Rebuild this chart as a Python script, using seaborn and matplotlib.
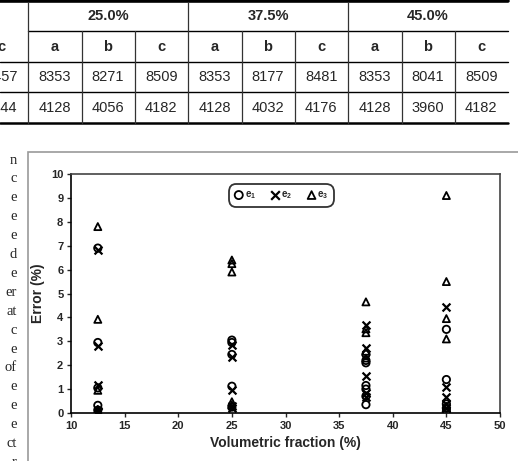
import numpy as np
import pandas as pd
import matplotlib
matplotlib.use("Agg")
import matplotlib.pyplot as plt
import seaborn as sns
from matplotlib.lines import Line2D
from matplotlib.patches import Rectangle

# ---- data ----
fractions = [12.5, 25.0, 37.5, 45.0]

# errors (%) at each volumetric fraction, one list per fraction
e1_err = [[6.9, 2.95, 1.05, 0.32, 0.12],
          [3.05, 2.95, 2.45, 1.12, 0.25],
          [2.45, 2.2, 2.1, 1.15, 1.0, 0.7, 0.35],
          [3.5, 1.4, 0.38, 0.2, 0.05]]
e2_err = [[6.8, 2.8, 1.18, 0.1, 0.05],
          [2.85, 2.35, 0.95, 0.3, 0.2],
          [3.68, 2.72, 1.55, 0.85, 0.65],
          [4.45, 1.1, 0.68, 0.38, 0.2]]
e3_err = [[7.8, 3.92, 0.95, 0.15, 0.05],
          [6.4, 6.25, 5.9, 0.47, 0.33],
          [4.65, 3.52, 3.36, 2.58, 2.3],
          [9.1, 5.5, 3.95, 3.1, 0.28]]

# table above the figure
group_labels = ['25.0%', '37.5%', '45.0%']
sub_labels = ['c', 'a', 'b', 'c', 'a', 'b', 'c', 'a', 'b', 'c']
row_top = ['8457', '8353', '8271', '8509', '8353', '8177', '8481', '8353', '8041', '8509']
row_bottom = ['4144', '4128', '4056', '4182', '4128', '4032', '4176', '4128', '3960', '4182']

# cut-off ends of the body text lines on the left
margin_text = ['n', 'c', 'e', 'e', 'e', 'd', 'e', 'er', 'at', 'c', 'e', 'of',
               'e', 'e', 'e', 'ct', 'r']


def long_form(name, err):
    rows = []
    for f, vals in zip(fractions, err):
        for v in vals:
            rows.append({'fraction': f, 'error': v, 'series': name})
    return rows


df = pd.DataFrame(long_form('e1', e1_err) + long_form('e2', e2_err)
                  + long_form('e3', e3_err))

sns.set_style("white")
plt.rcParams['font.family'] = ['Liberation Sans', 'DejaVu Sans']
plt.rcParams['mathtext.default'] = 'regular'

W, H = 518, 461
fig = plt.figure(figsize=(W / 100, H / 100), dpi=100)


def fx(px):
    return px / W


def fy(py):
    return 1 - py / H


# ---- table ----
col_edges = [28 + 53.33 * i for i in range(-1, 10)]
centers = [(a + b) / 2 for a, b in zip(col_edges[:-1], col_edges[1:])]


def hline(y, x0, x1, lw):
    fig.add_artist(Line2D([fx(x0), fx(x1)], [fy(y), fy(y)], color='black', lw=lw,
                          transform=fig.transFigure))


def vline(x, y0, y1, lw=0.9):
    fig.add_artist(Line2D([fx(x), fx(x)], [fy(y0), fy(y1)], color='#333333', lw=lw,
                          transform=fig.transFigure))


hline(1, 0, 508, 2.6)
hline(31, 28, 508, 1.0)
hline(62, 0, 508, 1.0)
hline(92, 0, 508, 1.0)
hline(123, 0, 508, 1.8)
for x in [28, 188, 348]:
    vline(x, 2, 123)
for x in [82, 135, 242, 295, 402, 455]:
    vline(x, 31, 123)

for i, g in enumerate(group_labels):
    fig.text(fx(108 + 160 * i), fy(16), g, ha='center', va='center',
             fontsize=10.5, fontweight='bold')
for c, s, a, b in zip(centers, sub_labels, row_top, row_bottom):
    fig.text(fx(c), fy(47), s, ha='center', va='center', fontsize=10.5, fontweight='bold')
    fig.text(fx(c), fy(77), a, ha='center', va='center', fontsize=10.5)
    fig.text(fx(c), fy(108), b, ha='center', va='center', fontsize=10.5)

for i, t in enumerate(margin_text):
    fig.text(fx(17), fy(160 + 18.9 * i), t, ha='right', va='center',
             fontsize=10.5, family='Liberation Serif')

# gray frame around the chart
fig.add_artist(Rectangle((fx(28), fy(470)), fx(500), fy(152) - fy(470),
                         transform=fig.transFigure, fill=False,
                         edgecolor='#9a9a9a', lw=1.2))

# ---- chart ----
ax = fig.add_axes([fx(71), fy(413), fx(500) - fx(71), fy(174) - fy(413)])

styles = {'e1': dict(marker='o', s=28, facecolor='none', edgecolor='black', linewidth=1.3),
          'e2': dict(marker='x', s=32, linewidth=1.6),
          'e3': dict(marker='^', s=26, facecolor='none', edgecolor='black', linewidth=1.3)}
labels = {'e1': 'e$_1$', 'e2': 'e$_2$', 'e3': 'e$_3$'}

for name in ['e1', 'e2', 'e3']:
    sub = df[df['series'] == name]
    sns.scatterplot(data=sub, x='fraction', y='error', ax=ax, color='black',
                    label=labels[name], zorder=3, **styles[name])

ax.set_xlim(10, 50)
ax.set_ylim(0, 10)
ax.set_xticks(range(10, 51, 5))
ax.set_yticks(range(0, 11))
ax.tick_params(axis='both', direction='out', length=3, width=1, labelsize=8,
               bottom=True, left=True, pad=2.5)
for lab in ax.get_xticklabels() + ax.get_yticklabels():
    lab.set_fontweight('bold')
for sp in ax.spines.values():
    sp.set_color('black')
    sp.set_linewidth(1.2)
ax.spines['top'].set_color('#444444')
ax.spines['right'].set_color('#444444')

ax.set_xlabel('Volumetric fraction (%)', fontsize=10, fontweight='bold', labelpad=4)
ax.set_ylabel('Error (%)', fontsize=10, fontweight='bold', labelpad=4)

leg = ax.legend(loc='center', bbox_to_anchor=(0.49, 0.91), ncol=3, fontsize=7,
                frameon=True, fancybox=True, handletextpad=0.1, columnspacing=1.5,
                borderpad=0.35, handlelength=1.0, markerscale=1.1)
frame = leg.get_frame()
frame.set_edgecolor('black')
frame.set_linewidth(1.3)
frame.set_boxstyle('round,pad=0.2,rounding_size=0.8')
for t in leg.get_texts():
    t.set_fontweight('bold')

fig.savefig('out.png', dpi=100)
